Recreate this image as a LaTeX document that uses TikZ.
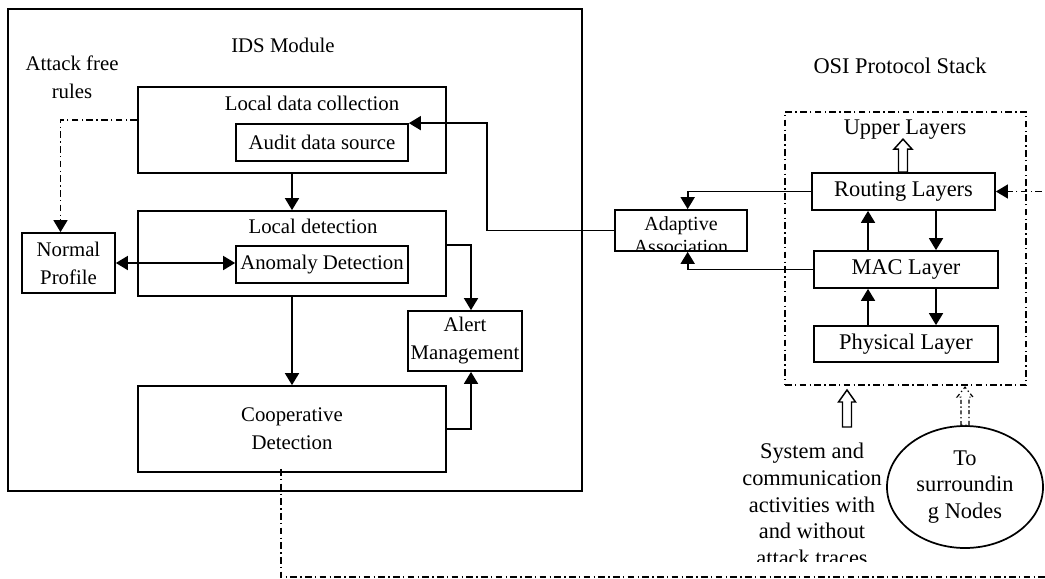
\documentclass[tikz,border=0pt]{standalone}
\usepackage{fontspec}
\setmainfont{Liberation Serif}
\usetikzlibrary{arrows.meta,shapes.geometric}

\newcommand{\leftfont}{\fontsize{15.6}{21}\selectfont}
\newcommand{\rightfont}{\fontsize{16.8}{20}\selectfont}
\newcommand{\adaptfont}{\fontsize{15}{17.5}\selectfont}

\begin{document}
\begin{tikzpicture}[x=0.75pt,y=-0.75pt,
  box/.style={draw, line width=1.3pt, inner sep=0pt, align=center, font=\leftfont},
  osibox/.style={box, font=\rightfont},
  lbl/.style={inner sep=0pt, align=center, font=\leftfont},
  rlbl/.style={inner sep=0pt, align=center, font=\rightfont},
  arr/.style={line width=1.3pt, -{Triangle[length=9pt,width=10.5pt]}},
  dashdot/.style={line width=1pt, dash pattern=on 5pt off 2.5pt on 1pt off 2.5pt},
  hollow/.style={draw, line width=1.1pt, fill=white},
  hollowdash/.style={draw, line width=0.9pt, fill=white, dash pattern=on 3pt off 2pt on 1pt off 2pt}]

  \useasboundingbox (0,0) rectangle (1045,578);
  \clip (0,0) rectangle (1045,578);

  % IDS module
  \node[box, minimum width=430.5pt, minimum height=361.5pt] (ids) at (295,250) {};
  \node[lbl] (idstitle) at (283,45) {IDS Module};
  \node[lbl] (rules) at (72,77) {Attack free\\rules};

  \node[box, minimum width=231pt, minimum height=64.5pt] (ldc) at (292,130) {};
  \node[lbl] (ldctitle) at (312,103) {Local data collection};
  \node[box, minimum width=129pt, minimum height=27.75pt] (audit) at (322,142.5) {Audit data source};

  \node[box, minimum width=231pt, minimum height=63.75pt] (ld) at (292,253.5) {};
  \node[lbl] (ldtitle) at (313,226) {Local detection};
  \node[box, minimum width=129pt, minimum height=27.75pt] (anom) at (322,264.5) {Anomaly Detection};

  \node[box, minimum width=69.75pt, minimum height=45pt] (normal) at (68.5,263) {Normal\\Profile};
  \node[box, minimum width=85.5pt, minimum height=45pt] (alert) at (465,341) {Alert\\Management};
  \node[box, minimum width=231pt, minimum height=64.5pt] (coop) at (292,429) {Cooperative\\Detection};

  \draw[arr] (ldc) -- (ld);
  \draw[arr] (ld) -- (coop);
  \draw[line width=1.3pt, {Triangle[length=9pt,width=10.5pt]}-{Triangle[length=9pt,width=10.5pt]}]
    (normal.east) -- (normal.east -| anom.west);
  \draw[arr] (ld.east |- anom.north) -| ([xshift=4.5pt]alert.north);
  \draw[arr] (coop.east) -| ([xshift=4.5pt]alert.south);
  \draw[dashdot, -{Triangle[length=9pt,width=10.5pt]}] ([yshift=7.5pt]ldc.west) -| ([xshift=-6pt]normal.north);

  % adaptive association
  \node[draw, line width=1.3pt, minimum width=99pt, minimum height=30.75pt] (adapt) at (681,230.5) {};
  \begin{scope}
    \clip (adapt.south west) rectangle (adapt.north east);
    \node[inner sep=0pt, align=center, font=\adaptfont, anchor=north] (adapttext) at (681,216) {Adaptive\\Association};
  \end{scope}

  % OSI protocol stack
  \node[rlbl] (osititle) at (900,66) {OSI Protocol Stack};
  \node[draw, dashdot, minimum width=180.75pt, minimum height=204.75pt] (osi) at (905.5,248.5) {};
  \node[rlbl] (upper) at (905,130) {Upper Layers};
  \node[osibox, minimum width=137.25pt, minimum height=27.75pt] (routing) at (903.5,191.5) {Routing Layers};
  \node[osibox, minimum width=138pt, minimum height=27.75pt] (mac) at (906,269.5) {MAC Layer};
  \node[osibox, minimum width=138pt, minimum height=27pt] (phys) at (906,344) {Physical Layer};

  \coordinate (upx) at (868,0);
  \coordinate (dnx) at (936,0);
  \draw[arr] (mac.north -| upx) -- (routing.south -| upx);
  \draw[arr] (routing.south -| dnx) -- (mac.north -| dnx);
  \draw[arr] (phys.north -| upx) -- (mac.south -| upx);
  \draw[arr] (mac.south -| dnx) -- (phys.north -| dnx);

  \draw[hollow] (routing.north) ++(-5,0) -- ++(0,-23) -- ++(-4.5,0) -- ++(9,-10) -- ++(9,10) -- ++(-4.5,0) -- ++(0,23) -- cycle;

  \draw[arr] (routing.west) -| ([xshift=5pt]adapt.north);
  \draw[arr] (mac.west) -| ([xshift=5pt]adapt.south);
  \coordinate (turn) at (487,232);
  \draw[line width=1.3pt, -{Triangle[length=9pt,width=10.5pt]}] (adapt.west) -- (adapt.west -| turn) |- (audit.north east);

  % inputs from below
  \node[draw, ellipse, line width=1.3pt, minimum width=117pt, minimum height=91.5pt, inner sep=0pt, align=center, font=\rightfont] (surr) at (965,487) {To\\surroundin\\g Nodes};
  \draw[hollowdash] (surr.north) ++(-4,0) -- ++(0,-28) -- ++(-4,0) -- ++(8,-10) -- ++(8,10) -- ++(-4,0) -- ++(0,28) -- cycle;

  \coordinate (sysarrow) at (847,427);
  \draw[hollow] (sysarrow) ++(-4.5,0) -- ++(0,-25) -- ++(-4,0) -- ++(8.5,-12) -- ++(8.5,12) -- ++(-4,0) -- ++(0,25) -- cycle;
  \begin{scope}
    \clip (700,430) rectangle (935,561);
    \node[rlbl, anchor=north] (sys) at (812,443) {System and\\communication\\activities with\\and without\\attack traces};
  \end{scope}

  % loop back to routing
  \coordinate (farright) at (1060,577);
  \draw[dashdot, -{Triangle[length=9pt,width=10.5pt]}] ([xshift=-8.25pt,yshift=3pt]coop.south) |- (farright) |- (routing.east);
\end{tikzpicture}
\end{document}
